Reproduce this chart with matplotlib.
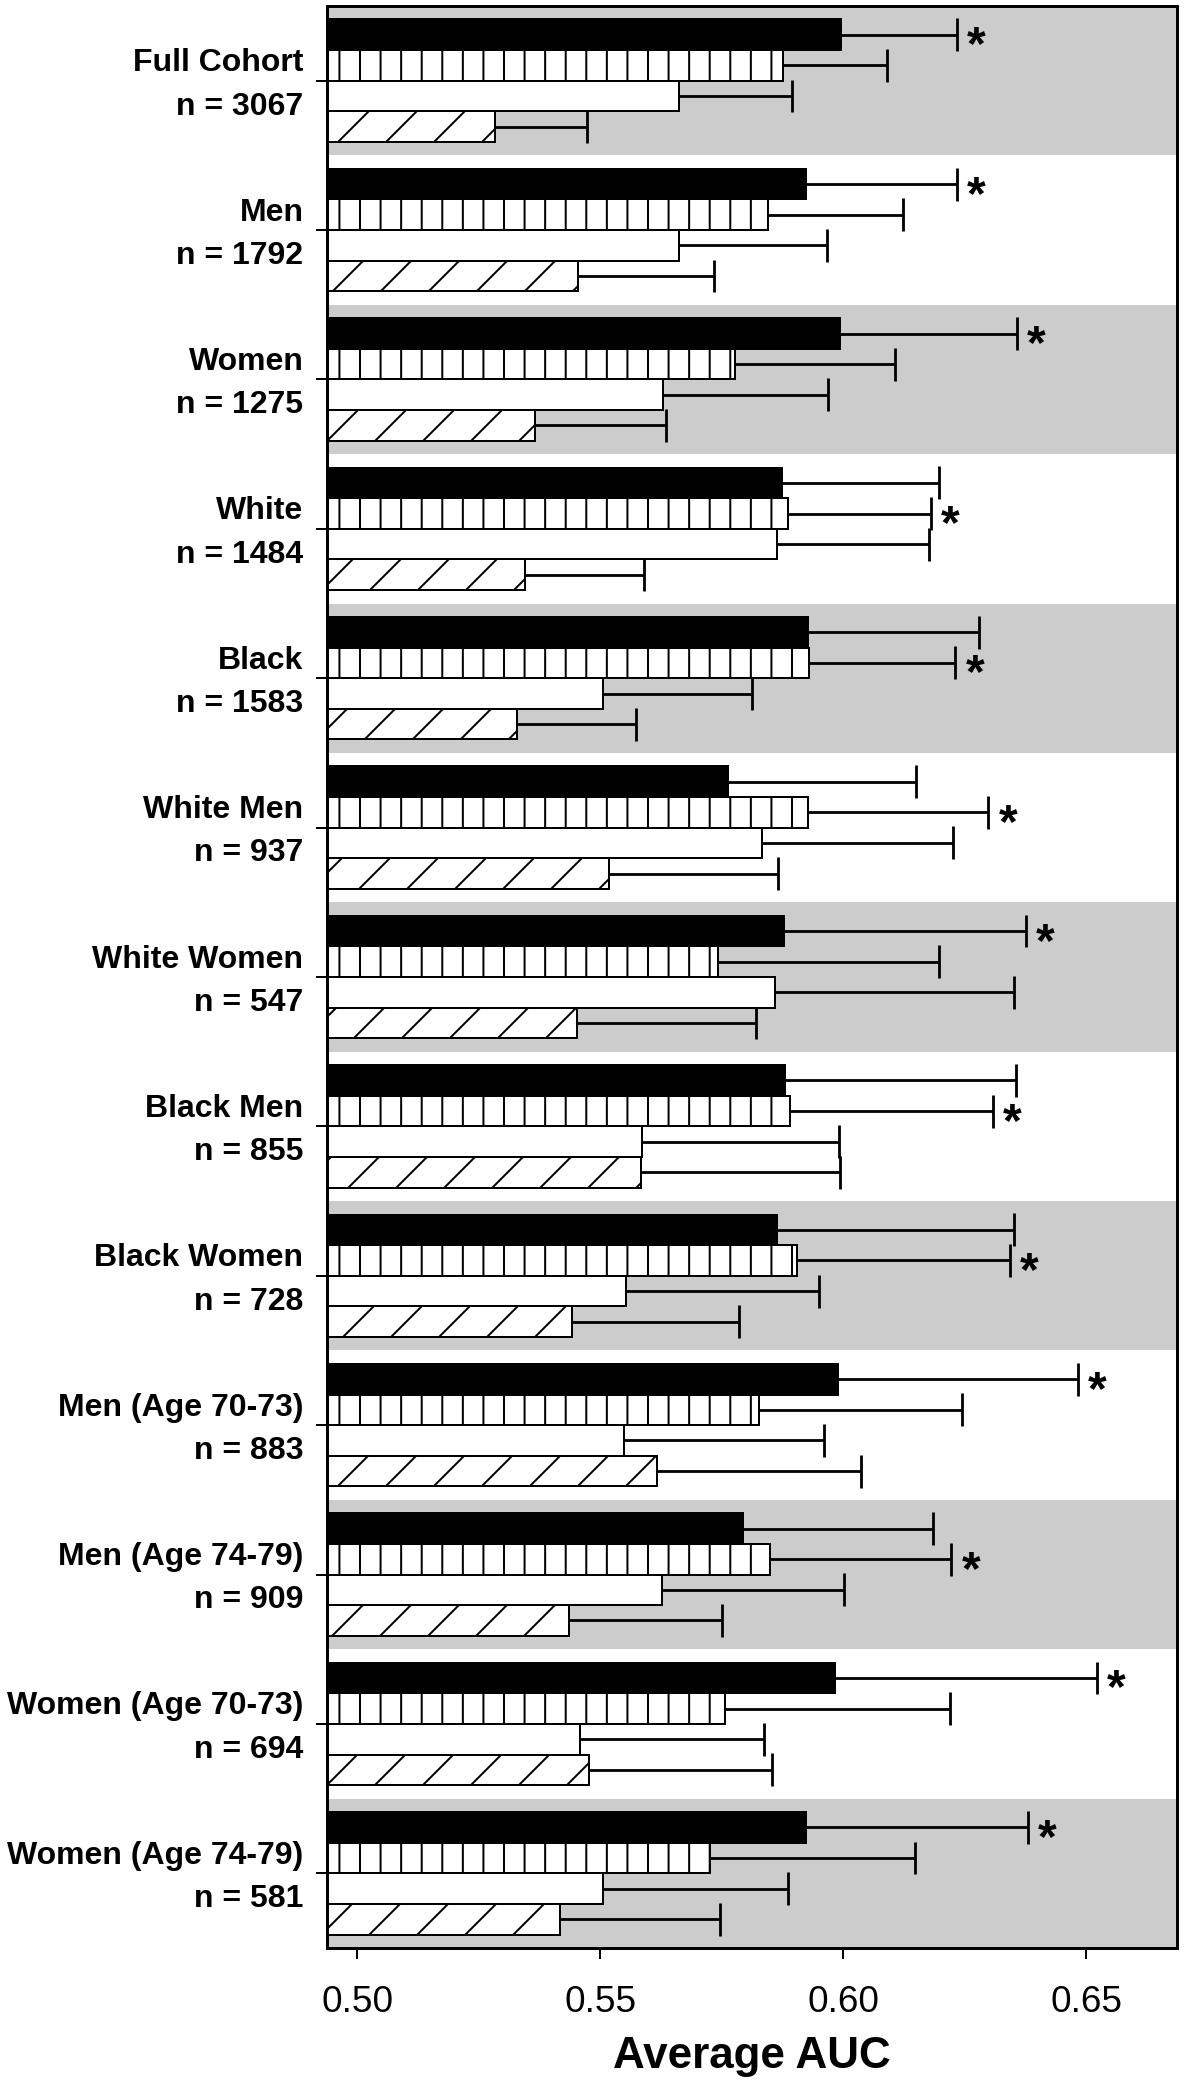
import numpy as np
import matplotlib.pyplot as plt
import matplotlib.hatch as mhatch
from matplotlib.transforms import ScaledTranslation

plt.rcParams['font.family'] = ['Liberation Sans', 'DejaVu Sans']
plt.rcParams['hatch.linewidth'] = 1.0


# R-style shading: vertical stripes a bit tighter than the default
class TightVertical(mhatch.VerticalHatch):
    def __init__(self, hatch, density):
        super().__init__(hatch, density + 1)


mhatch._hatch_types = [TightVertical if t is mhatch.VerticalHatch else t
                       for t in mhatch._hatch_types]

groups = ['Full Cohort', 'Men', 'Women', 'White', 'Black', 'White Men', 'White Women',
          'Black Men', 'Black Women', 'Men (Age 70-73)', 'Men (Age 74-79)',
          'Women (Age 70-73)', 'Women (Age 74-79)']
n_sizes = [3067, 1792, 1275, 1484, 1583, 937, 547, 855, 728, 883, 909, 694, 581]

# average AUC and upper CI bound, one pair per model (top to bottom in each group)
auc_solid = [0.5995, 0.5924, 0.5993, 0.5874, 0.5928, 0.5763, 0.5879, 0.5880, 0.5863, 0.5990, 0.5795, 0.5984, 0.5924]
up_solid = [0.6234, 0.6234, 0.6357, 0.6197, 0.6279, 0.6150, 0.6376, 0.6356, 0.6352, 0.6484, 0.6185, 0.6522, 0.6381]
auc_vstripe = [0.5877, 0.5845, 0.5778, 0.5887, 0.5929, 0.5927, 0.5743, 0.5891, 0.5905, 0.5827, 0.5850, 0.5756, 0.5727]
up_vstripe = [0.6090, 0.6123, 0.6107, 0.6180, 0.6231, 0.6299, 0.6197, 0.6308, 0.6343, 0.6245, 0.6223, 0.6219, 0.6148]
auc_open = [0.5662, 0.5662, 0.5630, 0.5863, 0.5506, 0.5834, 0.5859, 0.5586, 0.5553, 0.5550, 0.5627, 0.5459, 0.5506]
up_open = [0.5895, 0.5967, 0.5969, 0.6177, 0.5813, 0.6226, 0.6352, 0.5991, 0.5951, 0.5960, 0.6001, 0.5838, 0.5887]
auc_diag = [0.5284, 0.5455, 0.5366, 0.5345, 0.5328, 0.5519, 0.5452, 0.5585, 0.5442, 0.5616, 0.5436, 0.5478, 0.5417]
up_diag = [0.5473, 0.5734, 0.5635, 0.5591, 0.5574, 0.5866, 0.5821, 0.5993, 0.5785, 0.6037, 0.5751, 0.5853, 0.5747]

# which bar (0 = solid ... 3 = diagonal) carries the asterisk
star_bar = [0, 0, 0, 1, 1, 1, 0, 1, 1, 0, 1, 0, 0]

series = [
    (auc_solid, up_solid, 'black', None),
    (auc_vstripe, up_vstripe, 'white', '|'),
    (auc_open, up_open, 'white', None),
    (auc_diag, up_diag, 'white', '/'),
]

dpi = 144
fig = plt.figure(figsize=(1186 / dpi, 2087 / dpi), dpi=dpi)
ax = fig.add_axes([327 / 1186, 1 - 1948 / 2087, (1177 - 327) / 1186, (1948 - 6) / 2087])

ng = len(groups)
idx = np.arange(ng)
h = 0.205
offsets = np.array([-1.5, -0.5, 0.5, 1.5]) * h

for i in range(0, ng, 2):
    ax.axhspan(i - 0.5, i + 0.5, color='#cccccc', lw=0, zorder=0)

for k, (vals, ups, fc, hatch) in enumerate(series):
    y = idx + offsets[k]
    ax.barh(y, vals, height=h, color=fc, edgecolor='black', linewidth=1.0,
            hatch=hatch, zorder=2)
    ax.hlines(y, vals, ups, color='black', lw=1.4, zorder=3)
    ax.vlines(ups, y - 0.11, y + 0.11, color='black', lw=1.4, zorder=3)

for i, b in enumerate(star_bar):
    ax.annotate('*', (series[b][1][i], i + offsets[b]), xytext=(5, -6),
                textcoords='offset points', fontsize=24, fontweight='bold',
                ha='left', va='center')

ax.set_xlim(0.4938, 0.6687)
ax.set_ylim(ng - 0.5, -0.5)

ax.set_xticks([0.50, 0.55, 0.60, 0.65])
ax.set_xticklabels(['0.50', '0.55', '0.60', '0.65'])
ax.tick_params(axis='x', length=5.4, width=1, pad=13, labelsize=18.5, direction='out')

ax.set_yticks(idx)
ax.set_yticklabels([f'{g}\nn = {n}' for g, n in zip(groups, n_sizes)],
                   fontweight='bold', fontsize=16, linespacing=1.58)
ax.tick_params(axis='y', length=5.75, width=1, pad=6, direction='out')
shift = ScaledTranslation(0, 3 / 72, fig.dpi_scale_trans)
for lab in ax.get_yticklabels():
    lab.set_transform(lab.get_transform() + shift)

ax.set_xlabel('Average AUC', fontsize=22, fontweight='bold', labelpad=8)

for s in ax.spines.values():
    s.set_linewidth(1.5)

fig.savefig('out.png', dpi=dpi)
